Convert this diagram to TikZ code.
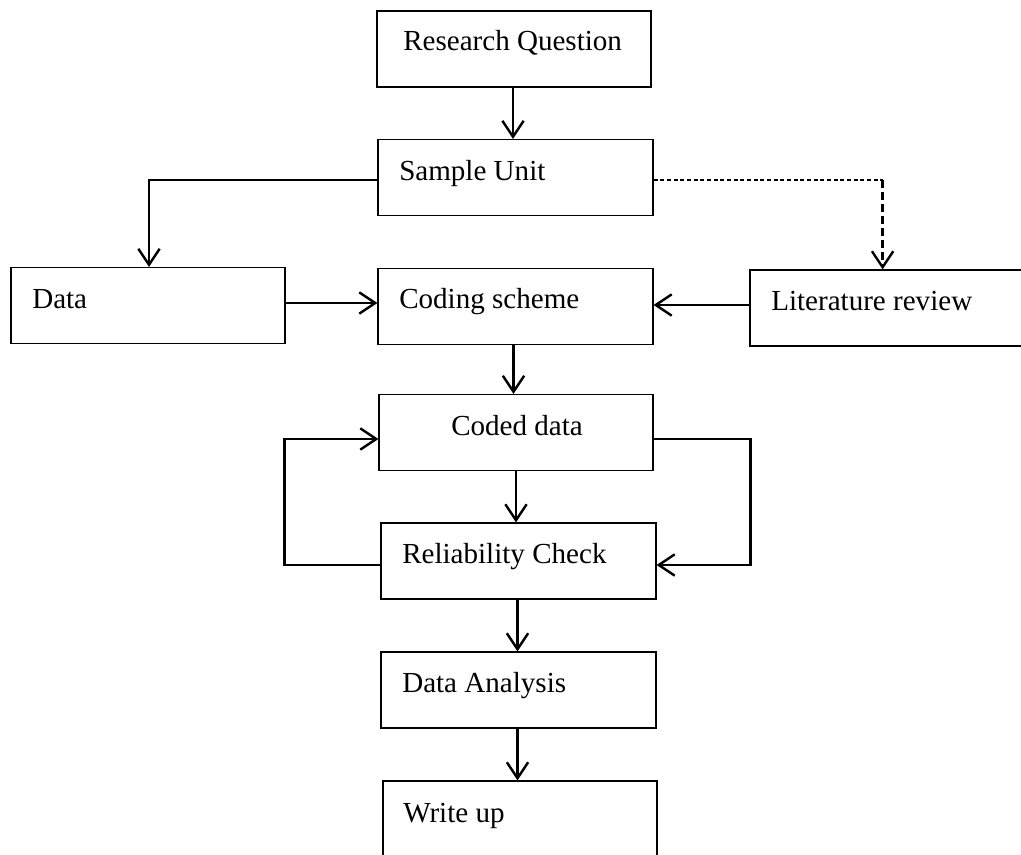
\documentclass[tikz,border=0pt]{standalone}
\usepackage{fontspec}
\setmainfont{Liberation Serif}
\usetikzlibrary{arrows.meta,calc}
\begin{document}
\begin{tikzpicture}[x=0.75pt,y=-0.75pt,
  box/.style={draw,line width=0.9pt,inner sep=0pt,minimum width=#1*0.75pt,minimum height=76*0.75pt},
  box/.default=275,
  lbl/.style={anchor=base west,inner sep=0pt,font=\fontsize{21.8}{26}\selectfont},
  arr/.style={line width=1.8pt,-{Straight Barb[length=12pt,width=16pt,line width=1.8pt]}},
  conn/.style={line width=1.8pt}]
\useasboundingbox (0,0) rectangle (1021,854);
% boxes
\node[box=274] (rq) at (514,49) {};
\node[box] (su) at (515.5,177.5) {};
\node[box=274] (data) at (148,305.5) {};
\node[box] (cs) at (515.5,306.5) {};
\node[box] (lr) at (887.5,308) {};
\node[box=274] (cd) at (516,432.5) {};
\node[box] (rc) at (518.5,561) {};
\node[box] (da) at (518.5,690) {};
\node[box=274] (wu) at (520,819) {};
% labels
\node[lbl] (trq) at (403,50) {Research Question};
\node[lbl] (tsu) at (399,180) {Sample Unit};
\node[lbl] (tdata) at (32,308) {Data};
\node[lbl] (tcs) at (399,308) {Coding scheme};
\node[lbl] (tlr) at (771,310) {Literature review};
\node[lbl] (tcd) at (451,435) {Coded data};
\node[lbl] (trc) at (402,563) {Reliability Check};
\node[lbl] (tda) at (402,692) {Data Analysis};
\node[lbl] (twu) at (403,822) {Write up};
% connectors
\draw[arr] ([xshift=-0.75pt]rq.south) -- ([xshift=-0.75pt]rq.south |- su.north);
\draw[line width=0.9pt] ($(su.west)+(0,2.5)$) -| coordinate (k1) ($(data.north)+(1,-88)$);
\draw[arr] (k1) -- ($(data.north)+(1,0)$);
\draw[line width=0.9pt,dash pattern=on 3pt off 2pt] ($(su.east)+(0,2.5)$) -- ($(su.east)+(229,2.5)$) coordinate (k2);
\draw[arr,dash pattern=on 6pt off 3pt] (k2) -- (k2 |- lr.north);
\draw[arr] ([yshift=2.5*0.75pt]data.east) -- ([yshift=2.5*0.75pt]data.east -| cs.west);
\draw[arr] ([yshift=3*0.75pt]lr.west) -- ([yshift=3*0.75pt]lr.west -| cs.east);
\draw[arr] ([xshift=-2*0.75pt]cs.south) -- ([xshift=-2*0.75pt]cs.south |- cd.north);
\draw[arr] (cd.south) -- (cd.south |- rc.north);
\draw[arr] ([xshift=-1*0.75pt]rc.south) -- ([xshift=-1*0.75pt]rc.south |- da.north);
\draw[arr] ([xshift=-1*0.75pt]da.south) -- ([xshift=-1*0.75pt]da.south |- wu.north);
\draw[arr] ($(rc.west)+(0,4)$) -- ++(-96,0) |- ($(cd.west)+(0,6.5)$);
\draw[arr] ($(cd.east)+(0,6.5)$) -- ++(97,0) |- ($(rc.east)+(0,4)$);
\end{tikzpicture}
\end{document}
